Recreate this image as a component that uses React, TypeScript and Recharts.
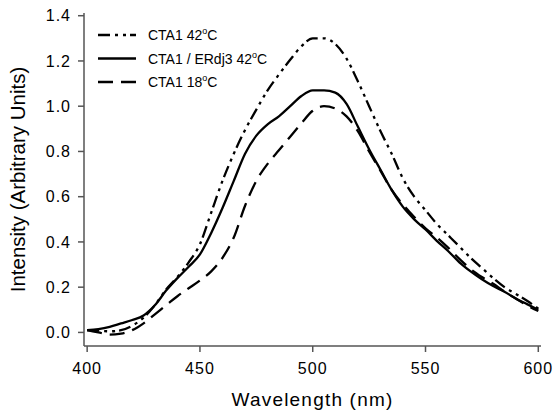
import { Legend, Line, LineChart, XAxis, YAxis } from 'recharts';

const wavelengths = [
  400, 405, 410, 415, 420, 425, 430, 435, 440, 445, 450, 455, 460, 465, 470, 475, 480, 485, 490, 495, 500,
  505, 510, 515, 520, 525, 530, 535, 540, 545, 550, 555, 560, 565, 570, 575, 580, 585, 590, 595, 600,
];

// CTA1 42°C (dash-dot-dot)
const cta42 = [
  0.01, 0.008, 0.005, 0.01, 0.03, 0.065, 0.12, 0.19, 0.245, 0.31, 0.39, 0.53, 0.67, 0.79, 0.895, 0.985, 1.07,
  1.14, 1.205, 1.265, 1.3, 1.3, 1.275, 1.21, 1.11, 1.0, 0.89, 0.79, 0.68, 0.6, 0.54, 0.48, 0.43, 0.38, 0.33,
  0.285, 0.24, 0.2, 0.17, 0.14, 0.105,
];

// CTA1 / ERdj3 42°C (solid)
const ctaErdj = [
  0.01, 0.015, 0.025, 0.04, 0.055, 0.075, 0.12, 0.185, 0.24, 0.29, 0.345, 0.44, 0.55, 0.67, 0.79, 0.87, 0.92,
  0.955, 1.0, 1.045, 1.07, 1.07, 1.06, 1.01, 0.91, 0.81, 0.72, 0.63, 0.555, 0.5, 0.455, 0.405, 0.36, 0.31,
  0.27, 0.235, 0.205, 0.18, 0.15, 0.125, 0.1,
];

// CTA1 18°C (dashed)
const cta18 = [
  0.01, 0.0, -0.01, -0.005, 0.01, 0.04, 0.08, 0.12, 0.16, 0.195, 0.23, 0.27, 0.33, 0.42, 0.56, 0.67, 0.745,
  0.805, 0.865, 0.925, 0.98, 1.0, 0.99, 0.955, 0.89, 0.8, 0.715, 0.63, 0.565, 0.51, 0.46, 0.42, 0.375, 0.325,
  0.28, 0.245, 0.215, 0.18, 0.15, 0.12, 0.095,
];

const xTicks = [400, 450, 500, 550, 600];
const yTicks = [0, 0.2, 0.4, 0.6, 0.8, 1.0, 1.2, 1.4];

const data = wavelengths.map((w, i) => ({ w, a: cta42[i], b: ctaErdj[i], c: cta18[i] }));

const series = [
  { key: 'a', name: 'CTA1 42', dash: '12 5 3 5 3 4' },
  { key: 'b', name: 'CTA1 / ERdj3 42', dash: undefined },
  { key: 'c', name: 'CTA1 18', dash: '15 8' },
];

const FONT = '"Liberation Sans", Arial, sans-serif';
const AXIS = '#555';

function LegendBox() {
  return (
    <svg width={200} height={80} style={{ display: 'block' }}>
      {series.map((s, i) => {
        const y = 10 + i * 23.5;
        return (
          <g key={s.key}>
            <line x1={0} x2={38} y1={y} y2={y} stroke="#000" strokeWidth={2.3} strokeDasharray={s.dash} />
            <text x={50} y={y + 5} fontFamily={FONT} fontSize={14} fill="#000">
              {s.name}
              <tspan fontSize={9} dy={-6}>o</tspan>
              <tspan dy={6}>C</tspan>
            </text>
          </g>
        );
      })}
    </svg>
  );
}

export default function App() {
  return (
    <div style={{ position: 'absolute', left: 0, top: 0, background: '#fff' }}>
      <LineChart width={557} height={413} data={data} margin={{ top: 13, right: 16, left: 0, bottom: 0 }}>
        <XAxis
          dataKey="w"
          type="number"
          domain={[398.6, 601.2]}
          ticks={xTicks}
          allowDataOverflow
          height={67}
          stroke={AXIS}
          strokeWidth={1.5}
          tickSize={6}
          tickMargin={11}
          tick={{ fill: '#000', fontSize: 16, fontFamily: FONT, letterSpacing: 1 }}
          label={{
            value: 'Wavelength (nm)',
            position: 'insideBottom',
            offset: 7,
            fill: '#000',
            fontSize: 19,
            fontFamily: FONT,
            letterSpacing: 1.2,
          }}
        />
        <XAxis xAxisId="top" orientation="top" dataKey="w" type="number" domain={[398.6, 601.2]} tick={false} tickLine={false} height={0} stroke={AXIS} strokeWidth={1.5} />
        <YAxis
          type="number"
          domain={[-0.06, 1.412]}
          ticks={yTicks}
          allowDataOverflow
          width={84}
          stroke={AXIS}
          strokeWidth={1.5}
          tickSize={6}
          tickMargin={7}
          tickFormatter={(v: number) => v.toFixed(1)}
          tick={{ fill: '#000', fontSize: 16, fontFamily: FONT, letterSpacing: 1 }}
          label={{
            value: 'Intensity (Arbitrary Units)',
            angle: -90,
            position: 'insideLeft',
            offset: 18,
            style: { textAnchor: 'middle' },
            fill: '#000',
            fontSize: 20.5,
            fontFamily: FONT,
          }}
        />
        <YAxis yAxisId="right" orientation="right" tick={false} tickLine={false} width={0} stroke={AXIS} strokeWidth={1.5} />
        <Legend
          verticalAlign="middle"
          align="center"
          layout="horizontal"
          wrapperStyle={{ position: 'absolute', left: 98, top: 25, width: 200 }}
          content={() => <LegendBox />}
        />
        {series.map((s) => (
          <Line
            key={s.key}
            dataKey={s.key}
            name={s.name}
            type="monotone"
            stroke="#000"
            strokeWidth={2.3}
            strokeDasharray={s.dash}
            dot={false}
            isAnimationActive={false}
          />
        ))}
      </LineChart>
    </div>
  );
}
